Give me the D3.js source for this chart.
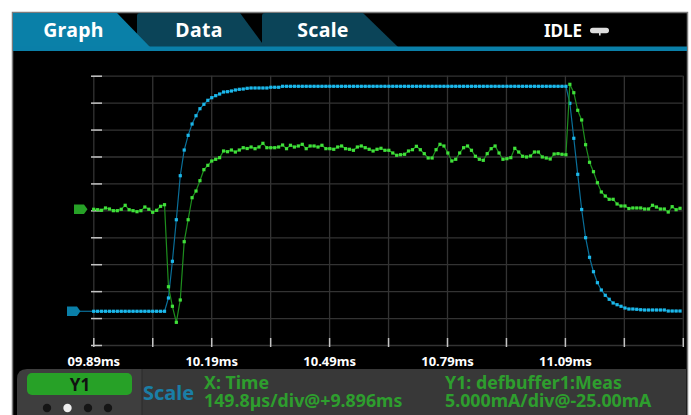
<!DOCTYPE html>
<html>
<head>
<meta charset="utf-8">
<script src="https://cdn.jsdelivr.net/npm/d3@7"></script>
<style>
  body { margin: 0; background: #fff; }
  svg { display: block; font-family: "Noto Sans", "Open Sans", sans-serif; }
</style>
</head>
<body>
<svg id="chart" width="691" height="415"></svg>
<script>
// sweep settings, as shown in the scale panel
var xStartMs = 9.896,
    xDivMs = 0.1498,
    xDivCount = 10,
    yStartMA = -25,
    yDivMA = 5,
    yDivCount = 10;

// sampling of the buffer (10us per reading)
var sampleStartMs = 9.897,
    sampleStepMs = 0.01;

var xTickLabels = ['09.89ms', '10.19ms', '10.49ms', '10.79ms', '11.09ms'];

// trace 1 (blue) in mA
var blueValues = [
  -18.74, -18.74, -18.74, -18.74, -18.74, -18.74, -18.74, -18.74, -18.74, -18.74,
  -18.74, -18.74, -18.74, -18.74, -18.74, -18.74, -18.74, -18.74, -18.74, -16.27,
  -9.46, -1.74, 6.43, 11.20, 13.93, 16.03, 17.57, 18.87, 19.69, 20.43,
  20.92, 21.29, 21.60, 21.97, 22.03, 22.16, 22.35, 22.47, 22.53, 22.66,
  22.72, 22.72, 22.72, 22.72, 22.72, 22.85, 22.85, 22.85, 23.03, 23.03,
  23.03, 23.03, 23.03, 23.03, 23.03, 23.03, 23.03, 23.03, 23.03, 23.03,
  23.03, 23.03, 23.03, 23.03, 23.03, 23.03, 23.03, 23.03, 23.03, 23.03,
  23.03, 23.03, 23.03, 23.03, 23.03, 23.03, 23.03, 23.03, 23.03, 23.03,
  23.03, 23.03, 23.03, 23.03, 23.03, 23.03, 23.03, 23.03, 23.03, 23.03,
  23.03, 23.03, 23.03, 23.03, 23.03, 23.03, 23.03, 23.03, 23.03, 23.03,
  23.03, 23.03, 23.03, 23.03, 23.03, 23.03, 23.03, 23.03, 23.03, 23.03,
  23.03, 23.03, 23.03, 23.03, 23.03, 23.03, 23.03, 23.03, 23.03, 23.03,
  23.03, 19.88, 13.38, 6.69, 0.16, -5.08, -8.72, -11.39, -13.43, -14.79,
  -15.77, -16.51, -17.20, -17.52, -17.81, -18.13, -18.32, -18.32, -18.37, -18.45,
  -18.50, -18.50, -18.50, -18.50, -18.50, -18.50, -18.69, -18.69, -18.69, -18.69
];

// trace 2 (green), mA
var greenValues = [
  0.20, 0.12, 0.01, 0.44, 0.25, -0.06, -0.06, 0.20, 0.94, 0.12,
  -0.06, -0.25, -0.06, 0.62, 0.20, -0.36, 0.01, 0.75, 1.05, -14.18,
  -17.81, -20.79, -16.64, -5.82, -1.74, 2.35, 3.59, 5.51, 7.55, 8.36,
  9.16, 9.48, 9.78, 11.02, 10.89, 11.20, 10.83, 11.20, 11.63, 11.48,
  11.76, 11.45, 11.76, 12.45, 11.63, 11.63, 11.63, 11.76, 12.13, 11.45,
  12.08, 11.76, 11.95, 12.26, 11.45, 11.95, 11.95, 11.76, 12.08, 11.45,
  11.45, 11.34, 11.76, 11.95, 11.45, 11.34, 11.15, 11.76, 11.95, 11.63,
  11.34, 11.02, 11.34, 11.52, 11.15, 11.15, 10.65, 10.22, 10.33, 10.41,
  11.02, 11.26, 11.89, 11.26, 10.52, 9.72, 9.72, 11.26, 12.26, 11.95,
  10.65, 9.16, 9.48, 10.65, 11.63, 11.95, 11.15, 10.04, 9.48, 9.29,
  10.52, 11.45, 11.95, 10.65, 9.48, 9.59, 9.78, 11.52, 10.83, 10.04,
  9.91, 10.09, 10.83, 10.83, 9.91, 9.72, 9.53, 10.46, 10.52, 10.41,
  10.33, 23.40, 21.84, 18.58, 16.78, 12.19, 8.92, 7.18, 5.13, 3.41,
  2.66, 2.05, 2.05, 1.18, 0.81, 0.81, 0.34, 0.44, 0.44, 0.44,
  0.25, 0.25, 0.94, 0.62, 0.25, 0.25, -0.31, 0.68, 0.12, 0.38
];

var svg = d3.select('#chart');

var plotLeft = 93.3, plotRight = 682.8, plotTop = 75.7, plotBottom = 345;

var x = d3.scaleLinear()
    .domain([xStartMs, xStartMs + xDivMs * xDivCount])
    .range([plotLeft, plotRight]);
var y = d3.scaleLinear()
    .domain([yStartMA, yStartMA + yDivMA * yDivCount])
    .range([plotBottom, plotTop]);

var xGrid = d3.range(xDivCount + 1).map(function (k) { return xStartMs + k * xDivMs; });
var yGrid = d3.range(yDivCount + 1).map(function (k) { return yStartMA + k * yDivMA; });

//screen frame
svg.append('rect').attr('x', 12).attr('y', 12).attr('width', 676).attr('height', 403).attr('fill', '#000');
svg.append('path').attr('d', 'M12.5,415V12.5H687.5V415').attr('fill', 'none').attr('stroke', '#7c7c7c').attr('stroke-width', 1.5);

//tabs (back to front)
var tabs = svg.append('g');
tabs.append('path').attr('d', 'M262,47V16Q262,13 265,13H363L398,47Z').attr('fill', '#0b4458');
tabs.append('path').attr('d', 'M137,47V16Q137,13 140,13H240L265,47Z').attr('fill', '#0b4458');
tabs.append('path').attr('d', 'M13,47V13H117L150,47Z').attr('fill', '#0a80a8');
svg.append('rect').attr('x', 13).attr('y', 46.5).attr('width', 674).attr('height', 4.5).attr('fill', '#0a7fa8');

var tabText = [['Graph', 73.5], ['Data', 199], ['Scale', 323]];
tabs.selectAll('text.tab').data(tabText).enter().append('text')
    .attr('class', 'tab')
    .attr('x', function (d) { return d[1]; })
    .attr('y', 36.5)
    .attr('text-anchor', 'middle')
    .attr('fill', '#fff')
    .attr('font-size', 19.5)
    .attr('font-weight', 'bold')
    .attr('letter-spacing', 0.3)
    .text(function (d) { return d[0]; });

svg.append('text').attr('x', 544).attr('y', 36.5).attr('fill', '#fff')
    .attr('font-size', 17).attr('font-weight', 'bold').text('IDLE');
svg.append('rect').attr('x', 590).attr('y', 27.7).attr('width', 19).attr('height', 5.6).attr('rx', 2.8).attr('fill', '#ddd');
svg.append('rect').attr('x', 599).attr('y', 32).attr('width', 1.6).attr('height', 3.5).attr('fill', '#ddd');

//grid
var gridX = svg.append('g')
    .attr('transform', 'translate(0,' + plotBottom + ')')
    .call(d3.axisBottom(x).tickValues(xGrid).tickSize(-(plotBottom - plotTop)).tickFormat(''));
var gridY = svg.append('g')
    .attr('transform', 'translate(' + plotLeft + ',0)')
    .call(d3.axisLeft(y).tickValues(yGrid).tickSize(-(plotRight - plotLeft)).tickFormat(''));
[gridX, gridY].forEach(function (g) {
    g.select('.domain').remove();
    g.selectAll('line').attr('stroke', '#333').attr('stroke-width', 1.3);
});

//short ticks on the edges
var leftTicks = svg.append('g')
    .attr('transform', 'translate(102,0)')
    .call(d3.axisLeft(y).tickValues(yGrid).tickSize(11).tickFormat(''));
var bottomTicks = svg.append('g')
    .attr('transform', 'translate(0,347)')
    .call(d3.axisBottom(x).tickValues(xGrid).tickSize(-9).tickFormat(''));
[leftTicks, bottomTicks].forEach(function (g) {
    g.select('.domain').remove();
    g.selectAll('line').attr('stroke', '#c4c4c4').attr('stroke-width', 1.5);
});

//x labels every second division
var labelAxis = svg.append('g')
    .attr('transform', 'translate(0,' + plotBottom + ')')
    .call(d3.axisBottom(x)
        .tickValues(xGrid.filter(function (d, i) { return i % 2 === 0 && i / 2 < xTickLabels.length; }))
        .tickSize(0).tickPadding(12)
        .tickFormat(function (d, i) { return xTickLabels[i]; }));
labelAxis.select('.domain').remove();
labelAxis.selectAll('text')
    .attr('fill', '#fff').attr('font-size', 13).attr('font-weight', 'bold')
    .attr('font-family', '"Noto Sans", sans-serif');

//traces
function sampleTime(i) { return sampleStartMs + i * sampleStepMs; }

var line = d3.line()
    .x(function (d, i) { return x(sampleTime(i)); })
    .y(function (d) { return y(d); });

var traces = [
    { values: blueValues, line: '#0a6f99', dot: '#1cb8ea', flag: '#0a7fa8', flagX: 67, stub: true },
    { values: greenValues, line: '#1e8e1e', dot: '#40e03a', flag: '#27a127', flagX: 74, stub: false }
];

traces.forEach(function (t) {
    var g = svg.append('g');
    var y0 = y(t.values[0]);
    if (t.stub) {
        g.append('line').attr('x1', t.flagX + 13).attr('x2', x(sampleTime(0)))
            .attr('y1', y0).attr('y2', y0).attr('stroke', t.line).attr('stroke-width', 1.2);
    }
    g.append('path')
        .attr('d', 'M' + t.flagX + ',' + (y0 - 4.7) + 'h10l3.5,4.7l-3.5,4.7h-10z')
        .attr('fill', t.flag);
    g.append('path')
        .datum(t.values)
        .attr('d', line)
        .attr('fill', 'none')
        .attr('stroke', t.line)
        .attr('stroke-width', 1.2);
    g.selectAll('rect.dot').data(t.values).enter().append('rect')
        .attr('class', 'dot')
        .attr('x', function (d, i) { return x(sampleTime(i)) - 1.6; })
        .attr('y', function (d) { return y(d) - 1.6; })
        .attr('width', 3.2).attr('height', 3.2)
        .attr('fill', t.dot);
});

//bottom status panel
var panel = svg.append('g');
panel.append('rect').attr('x', 142).attr('y', 369).attr('width', 544).attr('height', 46).attr('fill', '#383838');
panel.append('path').attr('d', 'M17,415V379Q17,369 27,369H142V415Z').attr('fill', '#3e3e3e');
panel.append('line').attr('x1', 142).attr('x2', 142).attr('y1', 369).attr('y2', 415).attr('stroke', '#2a2a2a');
panel.append('rect').attr('x', 27).attr('y', 373).attr('width', 105).attr('height', 22).attr('rx', 5).attr('fill', '#27a127');
panel.append('text').attr('x', 80).attr('y', 390.5).attr('text-anchor', 'middle')
    .attr('font-size', 17).attr('font-weight', 'bold').attr('fill', '#111').text('Y1');
panel.selectAll('circle').data([47, 67.5, 88, 108]).enter().append('circle')
    .attr('cx', function (d) { return d; }).attr('cy', 408).attr('r', 4.2)
    .attr('fill', function (d, i) { return i === 1 ? '#eee' : '#151515'; });

panel.append('text').attr('x', 143).attr('y', 400).attr('font-size', 20).attr('font-weight', 'bold')
    .attr('fill', '#1a7ea6').text('Scale');

//two-line scale readouts
var infoBlocks = [
    { x: 204, lines: ['X: Time', '149.8\u00b5s/div@+9.896ms'] },
    { x: 445, lines: ['Y1: defbuffer1:Meas', '5.000mA/div@-25.00mA'] }
];
var info = panel.selectAll('text.info').data(infoBlocks).enter().append('text')
    .attr('class', 'info')
    .attr('x', function (d) { return d.x; })
    .attr('y', 388.5)
    .attr('font-size', 17.8).attr('font-weight', 'bold').attr('fill', '#2e9e2e');
info.selectAll('tspan').data(function (d) { return d.lines.map(function (l) { return [d.x, l]; }); })
    .enter().append('tspan')
    .attr('x', function (d) { return d[0]; })
    .attr('dy', function (d, i) { return i === 0 ? 0 : 18.2; })
    .text(function (d) { return d[1]; });
</script>
</body>
</html>
